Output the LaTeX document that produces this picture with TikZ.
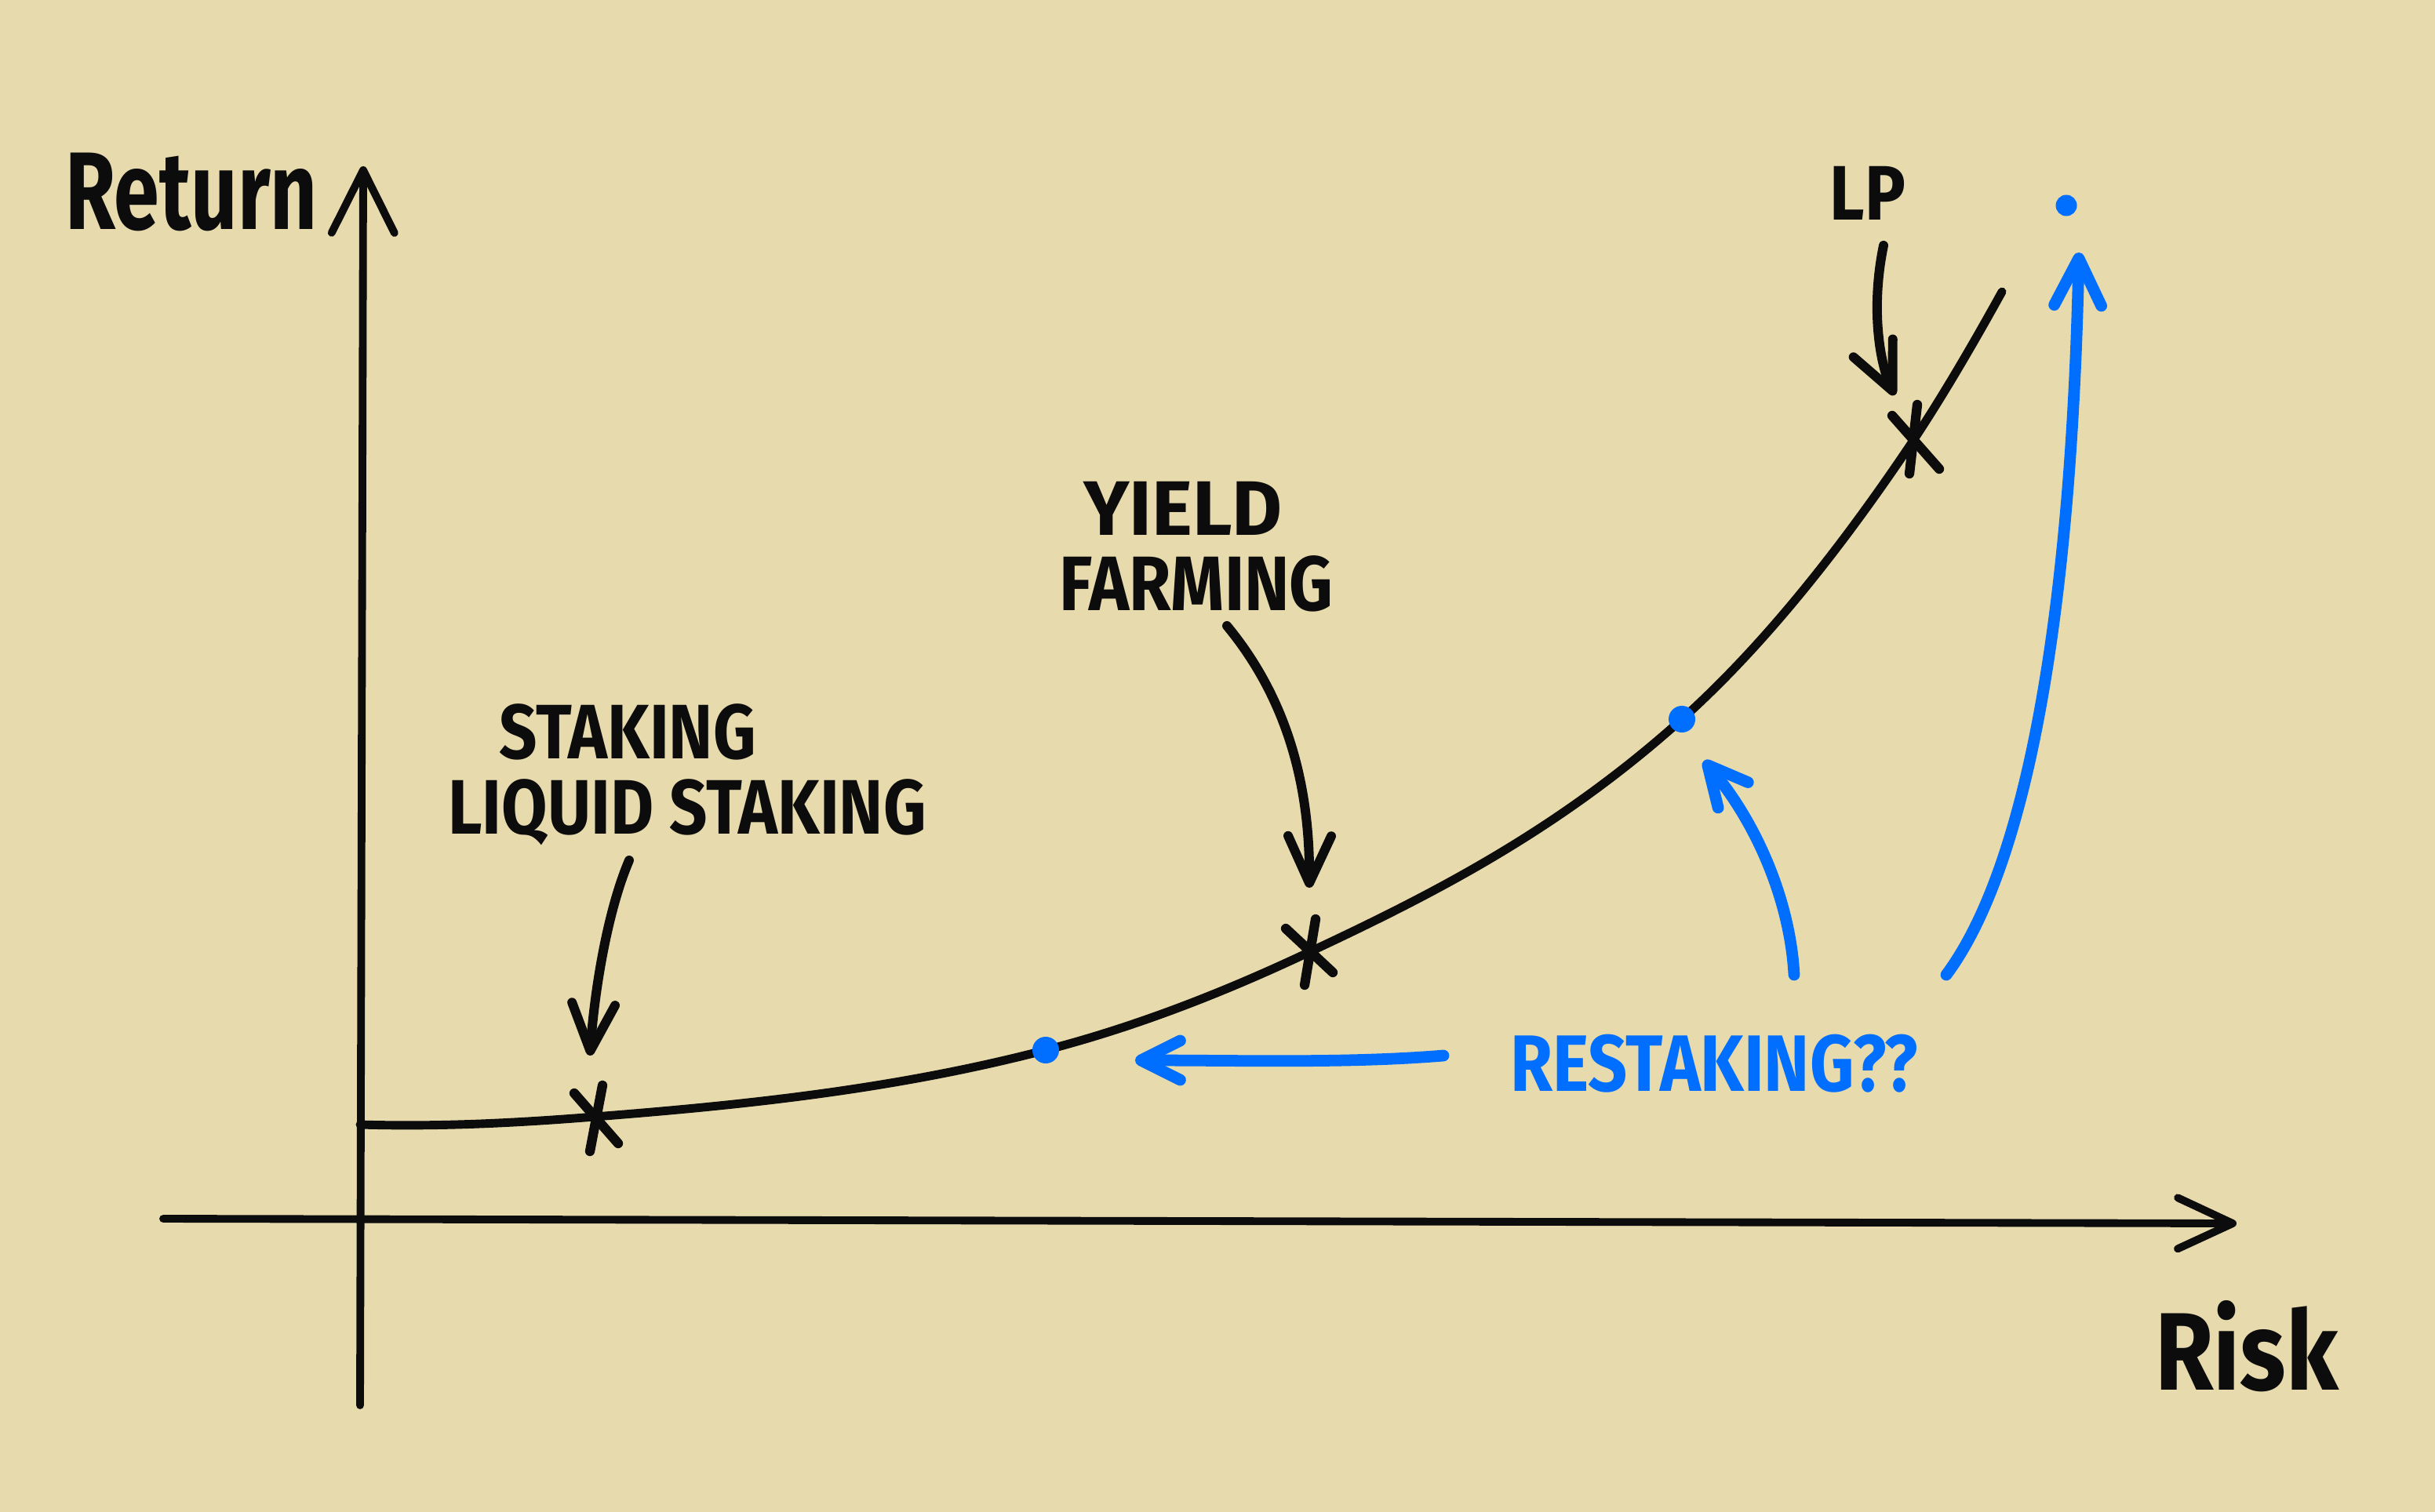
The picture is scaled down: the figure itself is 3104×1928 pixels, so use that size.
\documentclass[tikz,border=0pt]{standalone}
\usepackage{fontspec}
\setmainfont{Fira Sans}
\usepackage{graphicx}
\usetikzlibrary{arrows.meta}
\definecolor{paper}{RGB}{231,218,172}
\definecolor{ink}{RGB}{12,12,12}
\definecolor{pen}{RGB}{0,110,255}
\newcommand{\hw}[2]{\scalebox{#1}[1]{#2}}
\begin{document}
\begin{tikzpicture}[x=0.01cm,y=-0.01cm,
  axisline/.style={ink, line width=2.8pt, line cap=round, line join=round},
  curveline/.style={ink, line width=3.1pt, line cap=round},
  xmark/.style={ink, line width=3.5pt, line cap=round},
  blackarrow/.style={ink, line width=3.4pt, line cap=round, -{Straight Barb[length=6mm,width=5.5mm,round]}},
  bluearrow/.style={pen, line width=4.2pt, line cap=round, -{Straight Barb[length=5mm,width=5mm,round]}},
  lbl/.style={ink, font=\fontsize{28}{28}\selectfont\bfseries, inner sep=0pt},
  axlbl/.style={ink, font=\fontsize{40}{40}\selectfont\bfseries, inner sep=0pt},
  bluelbl/.style={pen, font=\fontsize{29}{29}\selectfont\bfseries, inner sep=0pt},
  bluedot/.style={pen, circle, fill, inner sep=0pt, minimum size=0.34cm}]
\fill[paper] (0,0) rectangle (3104,1928);
% axes
\coordinate (yb) at (459,1792);
\coordinate (yt) at (463,212);
\coordinate (xl) at (208,1554);
\coordinate (xr) at (2851,1560);
\draw[axisline, -{Straight Barb[length=8mm,width=8mm,round]}] (yb) -- (yt);
\draw[axisline, -{Straight Barb[length=7mm,width=6.5mm,round]}] (xl) -- (xr);
\node[axlbl] (ret) at (244,245) {\hw{0.74}{Return}};
\node[axlbl] (risk) at (2864,1717) {\hw{0.86}{Risk}};
% curve
\coordinate (c0) at (459,1434);
\coordinate (c1) at (758,1424);
\coordinate (c2) at (1333,1339);
\coordinate (c3) at (1669,1214);
\coordinate (c4) at (2144,917);
\coordinate (c5) at (2440,560);
\coordinate (c6) at (2552,372);
\draw[curveline] (c0) .. controls (559,1437) and (658,1432) .. (c1)
  .. controls (950,1409) and (1141,1389) .. (c2)
  .. controls (1445,1310) and (1557,1267) .. (c3)
  .. controls (1827,1140) and (1986,1059) .. (c4)
  .. controls (2243,828) and (2341,708) .. (c5)
  .. controls (2477,504) and (2515,439) .. (c6);
% X marks
\draw[xmark] ([shift={(-26,-30)}]c1) -- ([shift={(30,34)}]c1);
\draw[xmark] ([shift={(10,-40)}]c1) -- ([shift={(-6,44)}]c1);
\draw[xmark] ([shift={(-30,-30)}]c3) -- ([shift={(30,26)}]c3);
\draw[xmark] ([shift={(8,-42)}]c3) -- ([shift={(-6,42)}]c3);
\draw[xmark] ([shift={(-28,-30)}]c5) -- ([shift={(32,38)}]c5);
\draw[xmark] ([shift={(4,-44)}]c5) -- ([shift={(-6,44)}]c5);
% blue dots
\node[bluedot] (d1) at (c2) {};
\node[bluedot] (d2) at (c4) {};
\node[bluedot, minimum size=0.27cm] (d3) at (2634,262) {};
% labels
\node[lbl] (stk) at (800,933) {\hw{0.86}{STAKING}};
\node[lbl] (lstk) at (876,1036) {\hw{0.86}{LIQUID STAKING}};
\node[lbl] (yld) at (1508,648) {\hw{1.0}{YIELD}};
\node[lbl] (farm) at (1525,744) {\hw{0.88}{FARMING}};
\node[lbl] (lp) at (2381,246) {\hw{0.88}{LP}};
\node[bluelbl] (rst) at (2185,1356) {\hw{0.86}{RESTAKING??}};
% black arrows
\coordinate (a1s) at (802,1097);
\coordinate (a1e) at (752,1346);
\draw[blackarrow] (a1s) .. controls (775,1160) and (758,1260) .. (a1e);
\coordinate (a2s) at (1564,798);
\coordinate (a2e) at (1669,1132);
\draw[blackarrow] (a2s) .. controls (1640,890) and (1670,1000) .. (a2e);
\coordinate (a3s) at (2401,313);
\coordinate (a3e) at (2415,504);
\draw[blackarrow] (a3s) .. controls (2385,390) and (2395,460) .. (a3e);
% blue arrows
\coordinate (b1s) at (1840,1346);
\coordinate (b1e) at (1447,1352);
\draw[bluearrow] (b1s) .. controls (1720,1356) and (1580,1352) .. (b1e);
\coordinate (b2s) at (2287,1243);
\coordinate (b2e) at (2172,970);
\draw[bluearrow] (b2s) .. controls (2282,1150) and (2240,1050) .. (b2e);
\coordinate (b3s) at (2481,1243);
\coordinate (b3e) at (2650,322);
\draw[bluearrow, -{Straight Barb[length=6mm,width=6mm,round]}] (b3s) .. controls (2580,1110) and (2640,800) .. (b3e);
\end{tikzpicture}
\end{document}
